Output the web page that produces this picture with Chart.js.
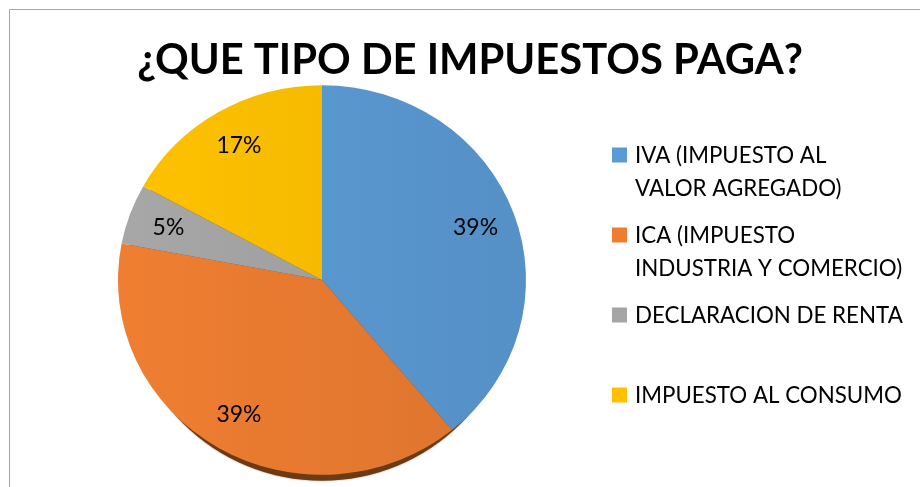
<!DOCTYPE html>
<html><head><meta charset="utf-8">
<script src="https://cdn.jsdelivr.net/npm/chart.js@4/dist/chart.umd.min.js"></script>
<style>html,body{margin:0;padding:0;background:#fff}canvas{display:block}</style>
</head><body>
<canvas id="c" width="920" height="487"></canvas>
<script>
const chartTitle = '¿QUE TIPO DE IMPUESTOS PAGA?';
const categories = ['IVA (IMPUESTO AL VALOR AGREGADO)', 'ICA (IMPUESTO INDUSTRIA Y COMERCIO)', 'DECLARACION DE RENTA', 'IMPUESTO AL CONSUMO'];
const legendLines = [['IVA (IMPUESTO AL', 'VALOR AGREGADO)'], ['ICA (IMPUESTO', 'INDUSTRIA Y COMERCIO)'], ['DECLARACION DE RENTA'], ['IMPUESTO AL CONSUMO']];
const values = [39, 39, 5, 17];
const colors = ['#5B9BD5', '#ED7D31', '#A5A5A5', '#FFC000'];

const FONT = 'Lato, "Open Sans", sans-serif';
const SY = 0.955;          // slight perspective squash of the pie
const PIE_R = 204;

function hexToRgb(h){const n=parseInt(h.slice(1),16);return [(n>>16)&255,(n>>8)&255,n&255];}
function shade(h,f){return 'rgb('+hexToRgb(h).map(v=>Math.max(0,Math.min(255,Math.round(v*f)))).join(',')+')';}

function fitFont(ctx, text, weight, targetW){
  ctx.font = weight + ' 100px ' + FONT;
  const w = ctx.measureText(text).width;
  return 100 * targetW / w;
}

const deco = {
  id: 'deco',
  beforeDraw(chart){
    const ctx = chart.ctx;
    ctx.save();
    ctx.fillStyle = '#fff';
    ctx.fillRect(0,0,chart.width,chart.height);
    ctx.strokeStyle = '#A6A6A6';
    ctx.lineWidth = 1;
    ctx.beginPath();
    ctx.moveTo(9.5, chart.height+2); ctx.lineTo(9.5, 9.5); ctx.lineTo(chart.width+2, 9.5);
    ctx.stroke();
    ctx.restore();
  },
  beforeDatasetsDraw(chart){
    const ctx = chart.ctx;
    const arc = chart.getDatasetMeta(0).data[0];
    const cx = arc.x, cy = arc.y, r = arc.outerRadius;
    // bottom edge (3D side) of the pie
    ctx.save();
    ctx.shadowColor = 'rgba(60,30,10,0.45)';
    ctx.shadowBlur = 2;
    ctx.fillStyle = '#6E3A12';
    ctx.beginPath(); ctx.ellipse(cx, cy + 6, r - 8, r * SY, 0, 0, Math.PI*2); ctx.fill();
    ctx.restore();
    ctx.save();
    ctx.translate(cx, cy); ctx.scale(1, SY); ctx.translate(-cx, -cy);
  },
  afterDatasetsDraw(chart){
    chart.ctx.restore();
    const ctx = chart.ctx;
    const meta = chart.getDatasetMeta(0);
    const total = values.reduce((a,b)=>a+b,0);
    ctx.save();
    const fs = fitFont(ctx, '39%', 'normal', 45);
    ctx.font = 'normal ' + fs + 'px ' + FONT;
    ctx.fillStyle = '#000';
    ctx.textAlign = 'center'; ctx.textBaseline = 'middle';
    meta.data.forEach((a,i)=>{
      const mid = (a.startAngle + a.endAngle)/2;
      const k = 0.8;
      const x = a.x + Math.cos(mid)*a.outerRadius*k;
      const y = a.y + Math.sin(mid)*a.outerRadius*k*SY;
      ctx.fillText(Math.round(values[i]/total*100) + '%', x, y);
    });
    ctx.restore();
  },
  afterDraw(chart){
    const ctx = chart.ctx;
    ctx.save();
    // title
    const ts = fitFont(ctx, chartTitle, 'bold', 666);
    ctx.font = 'bold ' + ts + 'px ' + FONT;
    ctx.fillStyle = '#000';
    ctx.textAlign = 'center'; ctx.textBaseline = 'alphabetic';
    ctx.fillText(chartTitle, 470, 74);
    // legend
    const ls = fitFont(ctx, 'DECLARACION DE RENTA', 'normal', 268);
    ctx.font = 'normal ' + ls + 'px ' + FONT;
    ctx.textAlign = 'left'; ctx.textBaseline = 'middle';
    const ys = [155, 235, 315, 395];
    legendLines.forEach((lines,i)=>{
      ctx.fillStyle = colors[i];
      ctx.fillRect(612, ys[i]-7.5, 15, 15);
      ctx.fillStyle = '#000';
      lines.forEach((t,j)=> ctx.fillText(t, 635, ys[i] + j*33 + 1));
    });
    ctx.restore();
  }
};

new Chart(document.getElementById('c'), {
  type: 'pie',
  data: {
    labels: categories,
    datasets: [{
      data: values,
      borderWidth: 0,
      backgroundColor: (c) => {
        const base = colors[c.dataIndex];
        const area = c.chart.chartArea;
        if (!area) return base;
        const cx = (area.left + area.right)/2;
        const g = c.chart.ctx.createLinearGradient(cx - PIE_R, 0, cx + PIE_R, 0);
        g.addColorStop(0, shade(base, 1.01));
        g.addColorStop(1, shade(base, 0.93));
        return g;
      }
    }]
  },
  options: {
    responsive: false,
    animation: false,
    radius: PIE_R,
    rotation: 0,
    layout: { padding: { left: 0, right: 276, top: 73, bottom: 0 } },
    plugins: { legend: { display: false }, title: { display: false }, tooltip: { enabled: false } }
  },
  plugins: [deco]
});
</script>
</body></html>
